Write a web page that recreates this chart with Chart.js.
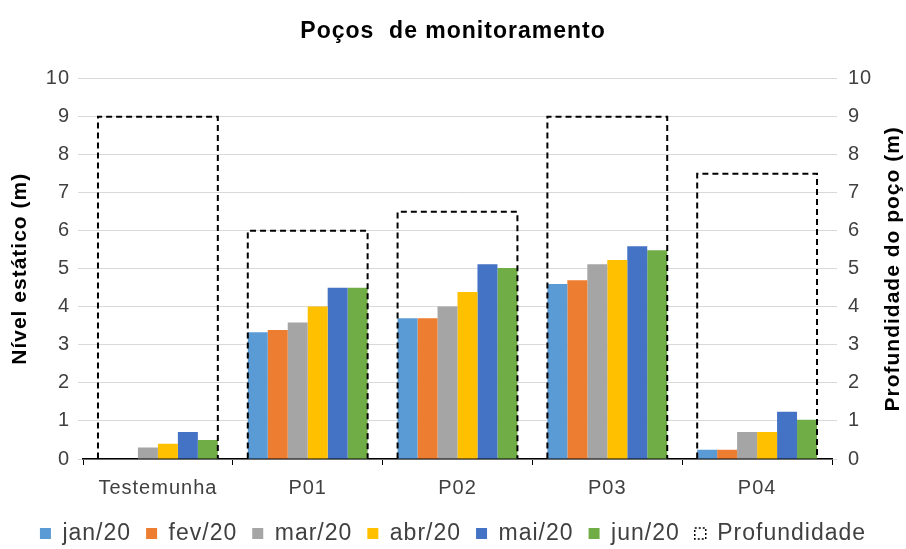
<!DOCTYPE html>
<html>
<head>
<meta charset="utf-8">
<script src="https://cdn.jsdelivr.net/npm/chart.js@4.4.1/dist/chart.umd.min.js"></script>
<style>
  html, body { margin: 0; background: #fff; }
  #wrap { width: 906px; height: 549px; }
</style>
</head>
<body>
<div id="wrap"><canvas id="chart"></canvas></div>
<script>
// Poços e níveis
const pocos = ["Testemunha", "P01", "P02", "P03", "P04"];
const jan20 = [0, 3.33, 3.7, 4.6, 0.24];
const fev20 = [0, 3.39, 3.7, 4.7, 0.24];
const mar20 = [0.3, 3.59, 4.01, 5.12, 0.71];
const abr20 = [0.4, 4.01, 4.39, 5.23, 0.71];
const mai20 = [0.71, 4.5, 5.12, 5.59, 1.24];
const jun20 = [0.5, 4.5, 5.02, 5.49, 1.03];
const profundidade = [9, 6, 6.5, 9, 7.5];
const yMin = 0, yMax = 10, yStep = 1;

const font = "'Liberation Sans', Arial, sans-serif";

// o texto do original é um pouco espaçado
const spacing = {
  id: "spacing",
  beforeLayout(chart) { chart.ctx.letterSpacing = "1px"; },
  beforeDraw(chart) { chart.ctx.letterSpacing = "1px"; }
};

// contorno tracejado das barras de profundidade
const dashedDepth = {
  id: "dashedDepth",
  afterDatasetsDraw(chart) {
    const idx = chart.data.datasets.findIndex(d => d.label === "Profundidade");
    const meta = chart.getDatasetMeta(idx);
    const ctx = chart.ctx;
    ctx.save();
    ctx.strokeStyle = "#000";
    ctx.lineWidth = 2;
    ctx.setLineDash([6, 4]);
    meta.data.forEach(bar => {
      const l = bar.x - bar.width / 2, r = bar.x + bar.width / 2;
      ctx.beginPath();
      ctx.moveTo(l, bar.base);
      ctx.lineTo(l, bar.y);
      ctx.lineTo(r, bar.y);
      ctx.lineTo(r, bar.base);
      ctx.stroke();
    });
    ctx.restore();
  }
};

// título do eixo da direita, lido de baixo para cima
const rightTitle = {
  id: "rightTitle",
  afterDraw(chart) {
    const ctx = chart.ctx;
    const a = chart.chartArea;
    ctx.save();
    ctx.letterSpacing = "1px";
    ctx.translate(893, (a.top + a.bottom) / 2);
    ctx.rotate(-Math.PI / 2);
    ctx.font = "bold 21px " + font;
    ctx.fillStyle = "#000";
    ctx.textAlign = "center";
    ctx.textBaseline = "middle";
    ctx.fillText("Profundidade do poço (m)", 0, 0);
    ctx.restore();
  }
};

function drawChart() {
  const ctx = document.getElementById("chart").getContext("2d");
  const monthBar = (label, data, color) => ({
    label, data, backgroundColor: color, yAxisID: "y",
    barPercentage: 1, categoryPercentage: 0.8
  });
  const tickFont = { family: font, size: 20 };

  new Chart(ctx, {
    type: "bar",
    data: {
      labels: pocos,
      datasets: [
        monthBar("jan/20", jan20, "#5b9bd5"),
        monthBar("fev/20", fev20, "#ed7d31"),
        monthBar("mar/20", mar20, "#a5a5a5"),
        monthBar("abr/20", abr20, "#ffc000"),
        monthBar("mai/20", mai20, "#4472c4"),
        monthBar("jun/20", jun20, "#70ad47"),
        {
          label: "Profundidade", data: profundidade, yAxisID: "y2",
          backgroundColor: "rgba(0,0,0,0)", borderWidth: 0,
          grouped: false, barPercentage: 1, categoryPercentage: 0.8
        }
      ]
    },
    options: {
      responsive: true,
      maintainAspectRatio: false,
      animation: false,
      layout: { padding: { left: 0, right: 0, top: 0, bottom: -6 } },
      scales: {
        x: {
          grid: { offset: true, drawOnChartArea: false, color: "#000", tickLength: 6 },
          border: { color: "#000", width: 1.5 },
          ticks: { color: "#404040", font: tickFont, padding: 11 },
          afterFit(s) { s.height = 48; }
        },
        y: {
          position: "left", min: yMin, max: yMax,
          ticks: { stepSize: yStep, color: "#404040", font: tickFont, padding: 8 },
          grid: { color: "#d9d9d9", tickLength: 5 },
          border: { display: false },
          title: { display: true, text: "Nível estático (m)", color: "#000", font: { family: font, size: 21, weight: "bold" }, padding: { top: 8, bottom: 0 } },
          afterFit(s) { s.width = 83; }
        },
        y2: {
          position: "right", min: yMin, max: yMax,
          ticks: { stepSize: yStep, color: "#404040", font: tickFont, padding: 11 },
          grid: { drawOnChartArea: false, color: "#d9d9d9", tickLength: 5 },
          border: { display: false },
          afterFit(s) { s.width = 74; }
        }
      },
      plugins: {
        title: {
          display: true, text: "Poços  de monitoramento", color: "#000",
          font: { family: font, size: 23, weight: "bold" },
          padding: { top: 18, bottom: 33 }
        },
        tooltip: { enabled: false },
        legend: {
          position: "bottom",
          labels: {
            color: "#404040", font: { family: font, size: 23 },
            boxWidth: 11, boxHeight: 11, padding: 15,
            generateLabels(chart) {
              const items = Chart.defaults.plugins.legend.labels.generateLabels(chart);
              items.forEach(it => {
                if (it.text === "Profundidade") {
                  it.fillStyle = "rgba(0,0,0,0)";
                  it.strokeStyle = "#000";
                  it.lineWidth = 1.5;
                  it.lineDash = [2, 2];
                } else {
                  it.lineWidth = 0;
                }
              });
              return items;
            }
          }
        }
      }
    },
    plugins: [spacing, dashedDepth, rightTitle]
  });
}

document.addEventListener("DOMContentLoaded", drawChart);
</script>
</body>
</html>
